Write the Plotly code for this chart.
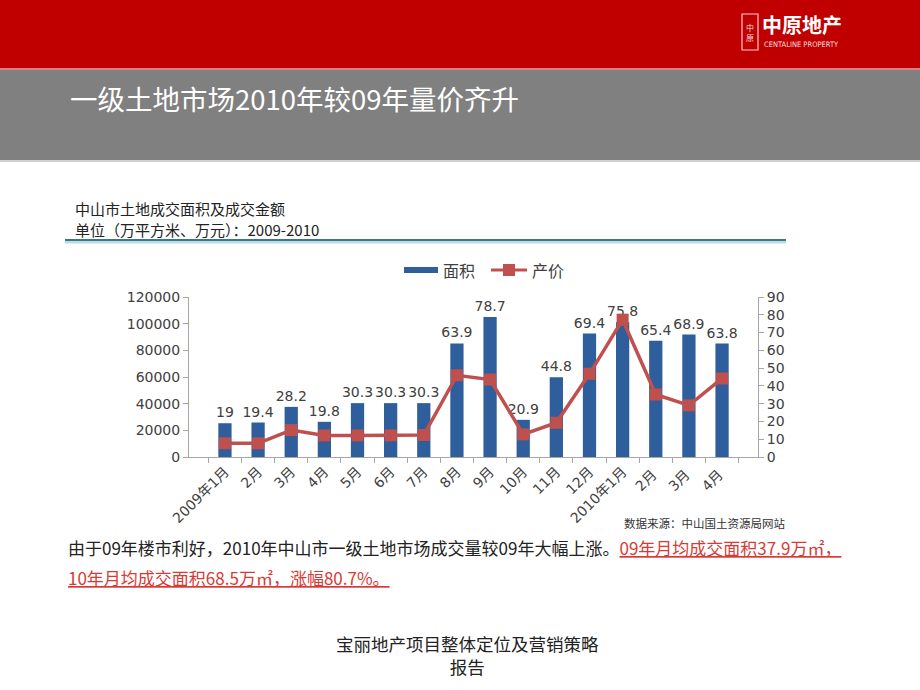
import plotly.graph_objects as go

# ---------------- data ----------------
months = ["2009年1月", "2月", "3月", "4月", "5月", "6月", "7月", "8月", "9月",
          "10月", "11月", "12月", "2010年1月", "2月 ", "3月 ", "4月 "]
area = [19, 19.4, 28.2, 19.8, 30.3, 30.3, 30.3, 63.9, 78.7,
        20.9, 44.8, 69.4, 75.8, 65.4, 68.9, 63.8]
price = [10300, 10300, 20200, 16200, 16200, 16200, 16500, 61300, 58100,
         17000, 25700, 62400, 103000, 46900, 38700, 58900]
left_ticks = [0, 20000, 40000, 60000, 80000, 100000, 120000]
right_ticks = [0, 10, 20, 30, 40, 50, 60, 70, 80, 90]

W, H = 920, 690
PL, PR, PT, PB = 189, 758, 297, 457


def px(x):
    return (x - PL) / (PR - PL)


def py(y):
    return (PB - y) / (PB - PT)


BLUE = "#2e5e9c"
RED = "#c0504d"
TXT = "#404040"
FONT = "DejaVu Sans, Noto Sans CJK SC, sans-serif"
CJK = "Noto Sans CJK SC, sans-serif"

fig = go.Figure()
fig.add_trace(go.Bar(
    x=months, y=area, name="面积", marker=dict(color=BLUE, line=dict(width=0)),
    text=[f"{v:g}" for v in area], textposition="outside", cliponaxis=False,
    constraintext="none", textfont=dict(size=14, color=TXT, family=FONT),
    yaxis="y", showlegend=False))
fig.add_trace(go.Scatter(
    x=months, y=price, name="产价", mode="lines+markers",
    line=dict(color=RED, width=3.5),
    marker=dict(symbol="square", size=12, color=RED),
    yaxis="y2", showlegend=False, cliponaxis=False))

shapes = [
    dict(type="rect", xref="paper", yref="paper", x0=px(0), x1=px(W), y0=py(68), y1=py(0),
         fillcolor="#c00000", line=dict(width=0), layer="below"),
    dict(type="rect", xref="paper", yref="paper", x0=px(0), x1=px(W), y0=py(70), y1=py(68),
         fillcolor="#d98080", line=dict(width=0), layer="below"),
    dict(type="rect", xref="paper", yref="paper", x0=px(0), x1=px(W), y0=py(160), y1=py(70),
         fillcolor="#808080", line=dict(width=0), layer="below"),
    dict(type="rect", xref="paper", yref="paper", x0=px(0), x1=px(W), y0=py(162), y1=py(160),
         fillcolor="#d0d0d0", line=dict(width=0), layer="below"),
    # logo emblem
    dict(type="rect", xref="paper", yref="paper", x0=px(742), x1=px(758), y0=py(50), y1=py(14),
         fillcolor="rgba(0,0,0,0)", line=dict(color="#f3c9c9", width=1.2)),
    # teal rule under subtitle
    dict(type="line", xref="paper", yref="paper", x0=px(65), x1=px(786), y0=py(242), y1=py(242),
         line=dict(color="#b9dde2", width=3)),
    dict(type="line", xref="paper", yref="paper", x0=px(65), x1=px(786), y0=py(240), y1=py(240),
         line=dict(color="#3a7a88", width=2.2)),
    # custom legend
    dict(type="rect", xref="paper", yref="paper", x0=px(404), x1=px(438), y0=py(273), y1=py(267),
         fillcolor=BLUE, line=dict(width=0)),
    dict(type="line", xref="paper", yref="paper", x0=px(491), x1=px(527), y0=py(270), y1=py(270),
         line=dict(color=RED, width=3)),
    dict(type="rect", xref="paper", yref="paper", x0=px(503), x1=px(515), y0=py(276), y1=py(264),
         fillcolor=RED, line=dict(width=0)),
]

ann = []


def add(text, x, y, size, color, xanchor="left", family=CJK, yanchor="middle", align="left"):
    ann.append(dict(text=text, x=px(x), y=py(y), xref="paper", yref="paper",
                    xanchor=xanchor, yanchor=yanchor, align=align, showarrow=False,
                    font=dict(size=size, color=color, family=family)))


add("一级土地市场2010年较09年量价齐升", 68, 98, 27.5, "white")
add("<b>中原地产</b>", 760, 24, 20, "white")
add("CENTALINE PROPERTY", 762, 45, 7.5, "#f6dede", family="DejaVu Sans Condensed, sans-serif")
add("中<br>原", 750, 32, 8, "#f6dede", xanchor="center", align="center")
add("中山市土地成交面积及成交金额", 73, 208, 15, "#222222")
add("单位（万平方米、万元）：2009-2010", 73, 229, 15, "#222222")
add("面积", 441, 270, 16, TXT)
add("产价", 530, 270, 16, TXT)
add("数据来源：中山国土资源局网站", 787, 523, 11.5, "#333333", xanchor="right")
add("由于09年楼市利好，2010年中山市一级土地市场成交量较09年大幅上涨。"
    "<span style='color:#d83a35'><u>09年月均成交面积37.9万㎡，</u></span>",
    66, 547, 17, "#222222")
add("<span style='color:#d83a35'><u>10年月均成交面积68.5万㎡，涨幅80.7%。</u></span>",
    66, 577, 17, "#222222")
add("宝丽地产项目整体定位及营销策略<br>报告", 467, 655, 17.5, "#222222",
    xanchor="center", align="center")

axis_common = dict(showline=True, linecolor="#a6a6a6", linewidth=1, ticks="outside",
                   ticklen=5, tickcolor="#a6a6a6", showgrid=False, zeroline=False,
                   tickfont=dict(size=14, color=TXT, family=FONT))

fig.update_layout(
    width=W, height=H,
    margin=dict(l=PL, r=W - PR, t=PT, b=H - PB, pad=0),
    paper_bgcolor="white", plot_bgcolor="white",
    bargap=0.6,
    xaxis=dict(type="category", categoryorder="array", categoryarray=months,
               showline=True, linecolor="#a6a6a6", ticks="outside", ticklen=5,
               tickcolor="#a6a6a6", tickson="boundaries", tickangle=-45, showgrid=False,
               tickfont=dict(size=14, color=TXT, family=FONT)),
    yaxis=dict(side="right", range=[0, 90], tickvals=right_ticks, **axis_common),
    yaxis2=dict(side="left", overlaying="y", range=[0, 120000], tickvals=left_ticks,
                tickformat="d", **axis_common),
    shapes=shapes, annotations=ann, showlegend=False,
)

fig.write_html("out.html")
